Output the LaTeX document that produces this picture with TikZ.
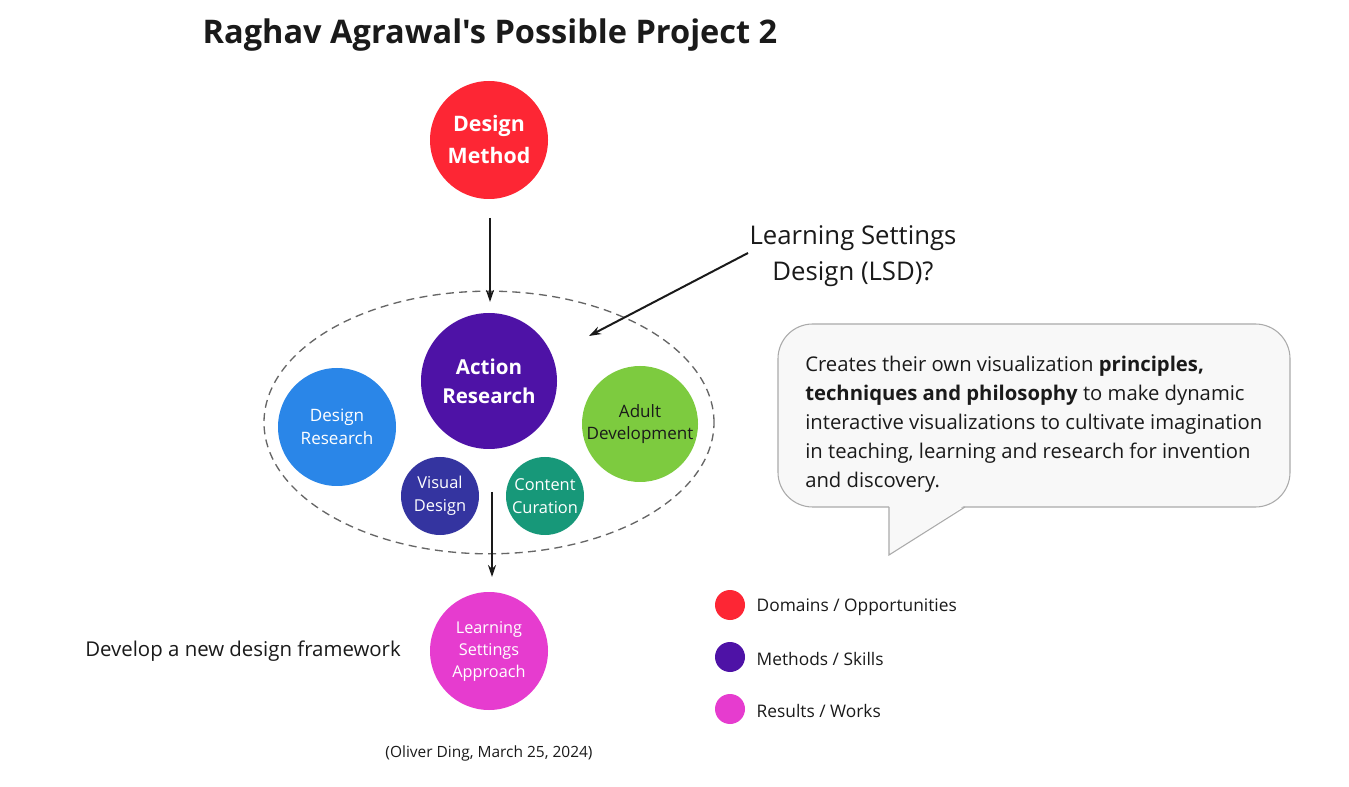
\documentclass[tikz,border=0pt]{standalone}
\usepackage{fontspec}
\setmainfont{Open Sans}
\newfontfamily\titlefont{Open Sans}[Ligatures=TeXOff]
\usetikzlibrary{arrows.meta,shapes.geometric}
\definecolor{cred}{HTML}{FD2634}
\definecolor{cpurple}{HTML}{4E12A6}
\definecolor{cblue}{HTML}{2A86E8}
\definecolor{cgreen}{HTML}{7DCB3F}
\definecolor{cdblue}{HTML}{3434A0}
\definecolor{cteal}{HTML}{179879}
\definecolor{cmag}{HTML}{E63CCF}
\definecolor{ctext}{HTML}{1A1A1A}
\definecolor{bubfill}{HTML}{F8F8F8}
\definecolor{bubline}{HTML}{AAAAAA}
\tikzset{
  disc/.style={circle, inner sep=0pt, align=center, text=white},
  arr/.style={-{Stealth[length=9pt,width=6pt]}, line width=1.5pt, draw=ctext},
  legtext/.style={anchor=west, font=\fontsize{13}{15}\selectfont, text=ctext},
}
\begin{document}
\begin{tikzpicture}[x=0.75pt,y=-0.75pt]
\useasboundingbox (0,0) rectangle (1349,787);
\fill[white] (0,0) rectangle (1349,787);
% title
\node[font=\titlefont\fontsize{24.4}{28}\selectfont\bfseries, text=ctext] (title) at (490,35) {Raghav Agrawal's Possible Project 2};
% top
\node[disc, fill=cred, minimum size=88.5pt, font=\fontsize{16}{24}\selectfont\bfseries] (dm) at (489,140) {Design\\Method};
% ellipse
\node[draw=gray!80!black, dash pattern=on 6pt off 4pt, line width=1pt, ellipse, minimum width=337.5pt, minimum height=197pt, inner sep=0pt] (ell) at (489,422.5) {};
\node[disc, fill=cpurple, minimum size=102pt, font=\fontsize{15.4}{21.5}\selectfont\bfseries] (ar) at (489,381) {Action\\Research};
\node[disc, fill=cblue, minimum size=88.5pt, font=\fontsize{12.8}{17}\selectfont] (dr) at (337,427) {Design\\Research};
\node[disc, fill=cgreen, minimum size=87pt, text=ctext, font=\fontsize{12.8}{17}\selectfont] (ad) at (640,424) {Adult\\Development};
\node[disc, fill=cdblue, minimum size=58.5pt, font=\fontsize{12.3}{17}\selectfont] (vd) at (440,496) {Visual\\Design};
\node[disc, fill=cteal, minimum size=58.5pt, font=\fontsize{12.3}{17}\selectfont] (cc) at (545,496) {Content\\Curation};
\node[disc, fill=cmag, minimum size=88.5pt, font=\fontsize{12.2}{16.5}\selectfont] (lsa) at (489,651) {Learning\\Settings\\Approach};
% arrows
\coordinate (a1s) at (490,218);
\coordinate (a1e) at (490,302);
\draw[arr] (a1s) -- (a1e);
\coordinate (a2s) at (492,492);
\coordinate (a2e) at (492,577);
\draw[arr] (a2s) -- (a2e);
\node[font=\fontsize{19.3}{27}\selectfont, text=ctext, align=center] (lsd) at (853,256) {Learning Settings\\Design (LSD)?};
\coordinate (a3s) at (748,253);
\coordinate (a3e) at (589,336);
\draw[arr] (a3s) -- (a3e);
% bubble
\draw[draw=bubline, fill=bubfill, line width=0.8pt, rounded corners=26pt]
  (778,324) -- (1290,324) -- (1290,507) -- (778,507) -- cycle;
\fill[bubfill] (889,505) -- (965,505) -- (889,555) -- cycle;
\draw[draw=bubline, line width=0.8pt] (889,507) -- (889,555) -- (965,507);
\node[anchor=north west, align=left, inner sep=0pt, text=ctext, font=\fontsize{15.2}{21.8}\selectfont] (btxt) at (805,356)
 {Creates their own visualization \textbf{principles,}\\
  \textbf{techniques and philosophy} to make dynamic\\
  interactive visualizations to cultivate imagination\\
  in teaching, learning and research for invention\\
  and discovery.};
% legend
\node[circle, fill=cred, minimum size=22.5pt, inner sep=0pt] (l1) at (730,605) {};
\node[circle, fill=cpurple, minimum size=22.5pt, inner sep=0pt] (l2) at (730,657) {};
\node[circle, fill=cmag, minimum size=22.5pt, inner sep=0pt] (l3) at (730,709) {};
\node[legtext] (t1) at (752,607) {Domains / Opportunities};
\node[legtext] (t2) at (752,659) {Methods / Skills};
\node[legtext] (t3) at (752,711) {Results / Works};
% other texts
\node[font=\fontsize{15.3}{17}\selectfont, text=ctext] (dev) at (243,651) {Develop a new design framework};
\node[font=\fontsize{11.6}{13}\selectfont, text=ctext] (cred) at (489,753) {(Oliver Ding, March 25, 2024)};
\end{tikzpicture}
\end{document}
